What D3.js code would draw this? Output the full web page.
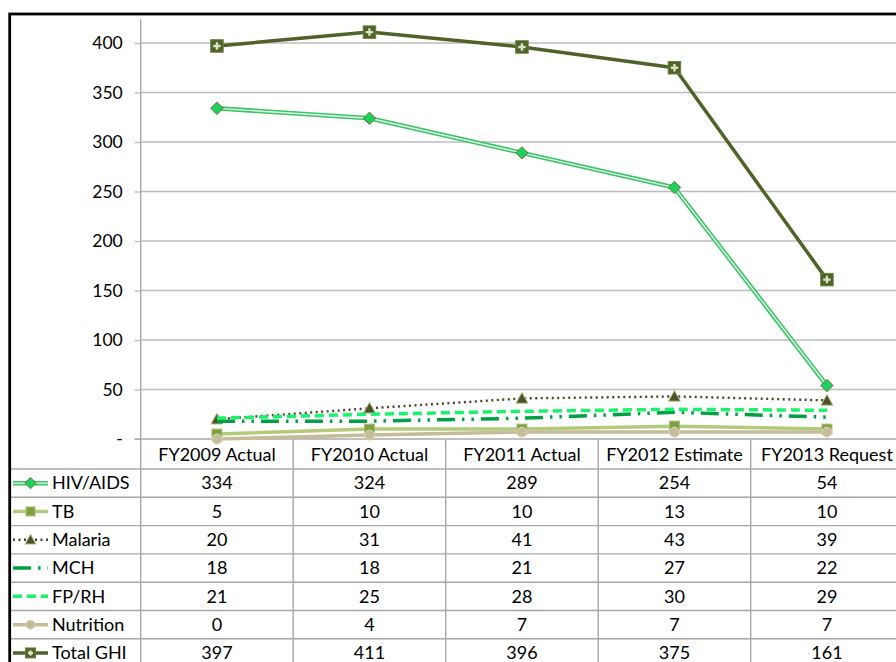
<!DOCTYPE html>
<html><head><meta charset="utf-8">
<script src="https://cdn.jsdelivr.net/npm/d3@7"></script>
<style>
html,body{margin:0;padding:0;background:#fff;}
svg{display:block;}
text{font-family:"Gill Sans","Gill Sans MT",Lato,sans-serif;fill:#000;}
</style></head>
<body><svg id="c" width="896" height="662"></svg>
<script>
const categories = ["FY2009 Actual","FY2010 Actual","FY2011 Actual","FY2012 Estimate","FY2013 Request"];
const seriesNames = ["HIV/AIDS","TB","Malaria","MCH","FP/RH","Nutrition","Total GHI"];
const hivAids  = [334,324,289,254,54];
const tb       = [5,10,10,13,10];
const malaria  = [20,31,41,43,39];
const mch      = [18,18,21,27,22];
const fprh     = [21,25,28,30,29];
const nutrition= [0,4,7,7,7];
const totalGhi = [397,411,396,375,161];
const yTicks = [0,50,100,150,200,250,300,350,400];
const yTickLabels = ["-","50","100","150","200","250","300","350","400"];

const values = [hivAids,tb,malaria,mch,fprh,nutrition,totalGhi];
const styles = [
  {color:"#3cc46a", width:4.5, inner:"#e2f7e8", dash:null, marker:"diamond", mfill:"#1ed060", mstroke:"#6b7a2a"},
  {color:"#b3ca7c", width:3.5, dash:null, marker:"square", mfill:"#7f9f3f", mstroke:"#a8bf78"},
  {color:"#4a4428", width:2.4, dash:"2,3.5", marker:"triangle", mfill:"#4f5228", mstroke:"#b8c48c"},
  {color:"#00a043", width:3.5, dash:"18,7,2.5,7,2.5,7", marker:null},
  {color:"#18f46a", width:3.5, dash:"9,5", marker:null},
  {color:"#c4bd97", width:3.5, dash:null, marker:"circle", mfill:"#c4bd97", mstroke:"#d8d3b8"},
  {color:"#4f6228", width:3.5, dash:null, marker:"plus", mfill:"#4f6228", mstroke:"#6d8040"}
];

const FS = 18;
const svg = d3.select("#c");
const colLeft = 140.7, colW = 152.5;
const x = d3.scaleBand().domain(categories).range([colLeft, colLeft + colW*categories.length]).padding(0);
const y = d3.scaleLinear().domain([0,400]).range([439,43]);
const cx = c => x(c) + x.bandwidth()/2;

const gridCol = "#bcbcbc", tableCol = "#a8a8a8";

// gridlines
svg.append("g").selectAll("line").data(yTicks.filter(t=>t>0)).join("line")
  .attr("x1", colLeft).attr("x2", 896).attr("y1", d=>y(d)).attr("y2", d=>y(d))
  .attr("stroke", gridCol).attr("stroke-width", 1.3);

// y axis
const yAxis = d3.axisLeft(y).tickValues(yTicks).tickSize(6).tickPadding(12)
  .tickFormat((d,i)=>yTickLabels[i]);
const ga = svg.append("g").attr("transform",`translate(${colLeft},0)`).call(yAxis);
ga.select(".domain").remove();
ga.selectAll(".tick line").attr("stroke", gridCol).attr("stroke-width",1.3);
ga.selectAll(".tick text").attr("font-size",17.5).attr("font-family",'"Gill Sans","Gill Sans MT",Lato,sans-serif').attr("fill","#000");
svg.append("line").attr("x1",colLeft).attr("x2",colLeft).attr("y1",y(424)).attr("y2",662)
  .attr("stroke",tableCol).attr("stroke-width",1.4);

// table lines
const rowTop = 469, rowH = 28.3;
svg.append("line").attr("x1",colLeft-6).attr("x2",896).attr("y1",439).attr("y2",439).attr("stroke",tableCol).attr("stroke-width",1.4);
svg.append("g").selectAll("line").data(d3.range(seriesNames.length)).join("line")
  .attr("x1",10).attr("x2",896).attr("y1",i=>rowTop+i*rowH).attr("y2",i=>rowTop+i*rowH)
  .attr("stroke",tableCol).attr("stroke-width",1.4);
svg.append("g").selectAll("line").data(categories).join("line")
  .attr("x1",d=>x(d)+colW).attr("x2",d=>x(d)+colW).attr("y1",439).attr("y2",662)
  .attr("stroke",tableCol).attr("stroke-width",1.4);

// header
svg.append("g").selectAll("text").data(categories).join("text")
  .attr("x",cx).attr("y",460.5).attr("text-anchor","middle").attr("font-size",FS).text(d=>d);

// markers
function drawMarker(g, type, px, py, s, size){
  if(type==="diamond"){
    const r=size*0.62;
    g.append("path").attr("d",`M${px},${py-r}L${px+r},${py}L${px},${py+r}L${px-r},${py}Z`)
      .attr("fill",s.mfill).attr("stroke",s.mstroke).attr("stroke-width",1);
  } else if(type==="square"){
    const r=size/2;
    g.append("rect").attr("x",px-r).attr("y",py-r).attr("width",size).attr("height",size)
      .attr("fill",s.mfill).attr("stroke",s.mstroke).attr("stroke-width",1);
  } else if(type==="triangle"){
    const r=size*0.6;
    g.append("path").attr("d",`M${px},${py-r}L${px+r},${py+r*0.8}L${px-r},${py+r*0.8}Z`)
      .attr("fill",s.mfill).attr("stroke",s.mstroke).attr("stroke-width",1);
  } else if(type==="circle"){
    g.append("circle").attr("cx",px).attr("cy",py).attr("r",size/2)
      .attr("fill",s.mfill).attr("stroke",s.mstroke).attr("stroke-width",1);
  } else if(type==="plus"){
    const r=size/2;
    g.append("rect").attr("x",px-r).attr("y",py-r).attr("width",2*r).attr("height",2*r)
      .attr("fill",s.mfill).attr("stroke",s.mstroke).attr("stroke-width",1);
    g.append("path").attr("d",`M${px-r+2.5},${py}H${px+r-2.5}M${px},${py-r+2.5}V${py+r-2.5}`)
      .attr("stroke","#d8e4c4").attr("stroke-width",2.4);
  }
}

const line = d3.line().x((d,i)=>cx(categories[i])).y(d=>y(d));
values.forEach((vals,si)=>{
  const s = styles[si];
  const g = svg.append("g");
  const p = g.append("path").attr("d",line(vals)).attr("fill","none")
    .attr("stroke",s.color).attr("stroke-width",s.width).attr("stroke-linejoin","round");
  if(s.dash) p.attr("stroke-dasharray",s.dash);
  if(s.inner) g.append("path").attr("d",line(vals)).attr("fill","none").attr("stroke",s.inner).attr("stroke-width",1.4);
  if(s.marker) vals.forEach((v,i)=>drawMarker(g,s.marker,cx(categories[i]),y(v),s,s.marker==="plus"?12.5:10));
});

// table rows: legend + values
seriesNames.forEach((name,si)=>{
  const s = styles[si];
  const cyRow = rowTop + si*rowH + rowH/2;
  const g = svg.append("g");
  const lp = g.append("line").attr("x1",13).attr("x2",48).attr("y1",cyRow).attr("y2",cyRow)
    .attr("stroke",s.color).attr("stroke-width",s.width);
  if(s.dash) lp.attr("stroke-dasharray",s.dash);
  if(s.inner) g.append("line").attr("x1",13).attr("x2",48).attr("y1",cyRow).attr("y2",cyRow).attr("stroke",s.inner).attr("stroke-width",1.4);
  if(s.marker) drawMarker(g,s.marker,30.5,cyRow,s,s.marker==="plus"?10:9);
  g.append("text").attr("x",52).attr("y",cyRow+6.3).attr("font-size",FS).text(name);
  g.selectAll("text.v").data(values[si]).join("text").attr("class","v")
    .attr("x",(d,i)=>cx(categories[i])).attr("y",cyRow+6.3).attr("text-anchor","middle")
    .attr("font-size",FS).text(d=>d);
});

// chart border
svg.append("rect").attr("x",9.7).attr("y",14).attr("width",1000).attr("height",1000)
  .attr("fill","none").attr("stroke","#000").attr("stroke-width",2.8);
</script></body></html>
